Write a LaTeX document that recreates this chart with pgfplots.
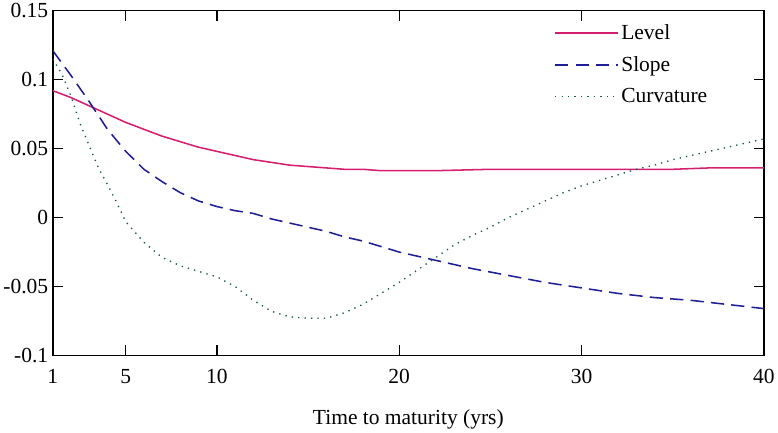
\documentclass[border=0pt]{standalone}
\usepackage{fontspec}
\setmainfont{Liberation Serif}
\usepackage{pgfplots}
\pgfplotsset{compat=1.18}
\definecolor{levelc}{RGB}{214,30,110}
\definecolor{slopec}{RGB}{30,30,150}
\definecolor{curvc}{RGB}{20,90,70}
\begin{document}
\begin{tikzpicture}
\begin{axis}[
    scale only axis,
    width=695pt, height=337pt,
    xmin=1, xmax=40,
    ymin=-0.1, ymax=0.15,
    xtick={1,5,10,20,30,40},
    ytick={-0.1,-0.05,0,0.05,0.1,0.15},
    yticklabels={-0.1,-0.05,0,0.05,0.1,0.15},
    /pgf/number format/assume math mode=true,
    xticklabel style={yshift=-10pt},
    yticklabel style={xshift=-1pt},
    major tick length=10pt,
    tick style={draw=black, line width=1.3pt},
    axis background/.style={draw=black, line width=1.1pt},
    tick label style={font=\fontsize{21}{25}\selectfont},
    label style={font=\fontsize{21}{25}\selectfont},
    xlabel={Time to maturity (yrs)},
    xlabel style={yshift=-18pt},
    legend style={draw=none, fill=none, at={(0.705,0.965)}, anchor=north west,
        font=\fontsize{21}{25}\selectfont, row sep=11pt, inner sep=0pt},
    legend cell align=left,
    legend image code/.code={\draw[#1] (0pt,0pt) -- (62pt,0pt);},
]
\addplot[levelc, line width=1.5pt] coordinates {
(1,0.092) (2,0.087) (3,0.081) (4,0.075) (5,0.069) (6,0.064) (7,0.059)
(8,0.055) (9,0.051) (10,0.048) (11,0.045) (12,0.042) (13,0.040) (14,0.038)
(15,0.037) (16,0.036) (17,0.035) (18,0.035) (19,0.034) (20,0.034) (22,0.034)
(25,0.035) (28,0.035) (30,0.035) (33,0.035) (35,0.035) (37,0.036) (40,0.036)
};
\addplot[slopec, line width=1.5pt, dash pattern=on 13pt off 7pt] coordinates {
(1,0.121) (2,0.103) (3,0.084) (4,0.064) (5,0.048) (6,0.035) (7,0.026)
(8,0.018) (9,0.012) (10,0.008) (11,0.005) (12,0.003) (13,-0.001) (14,-0.004)
(15,-0.007) (16,-0.010) (17,-0.014) (18,-0.017) (19,-0.021) (20,-0.025)
(22,-0.031) (24,-0.037) (26,-0.042) (28,-0.047) (30,-0.051) (32,-0.055)
(34,-0.058) (36,-0.060) (38,-0.063) (40,-0.066)
};
\addplot[curvc, line width=1.3pt, dash pattern=on 1.3pt off 5pt] coordinates {
(1,0.115) (1.5,0.104) (2,0.088) (2.5,0.068) (3,0.052) (3.5,0.036) (4,0.024)
(4.5,0.011) (5,-0.003) (6,-0.018) (7,-0.029) (8,-0.035) (9,-0.039)
(10,-0.043) (11,-0.050) (12,-0.060) (13,-0.068) (14,-0.072) (15,-0.073)
(16,-0.073) (17,-0.069) (18,-0.063) (19,-0.055) (20,-0.047) (21,-0.038)
(22,-0.029) (23,-0.020) (24,-0.013) (25,-0.007) (26,0.000) (27,0.006)
(28,0.012) (29,0.018) (30,0.023) (31,0.027) (32,0.031) (33,0.035)
(34,0.038) (35,0.042) (36,0.045) (37,0.048) (38,0.051) (39,0.054) (40,0.057)
};
\legend{Level,Slope,Curvature}
\end{axis}
\end{tikzpicture}
\end{document}
